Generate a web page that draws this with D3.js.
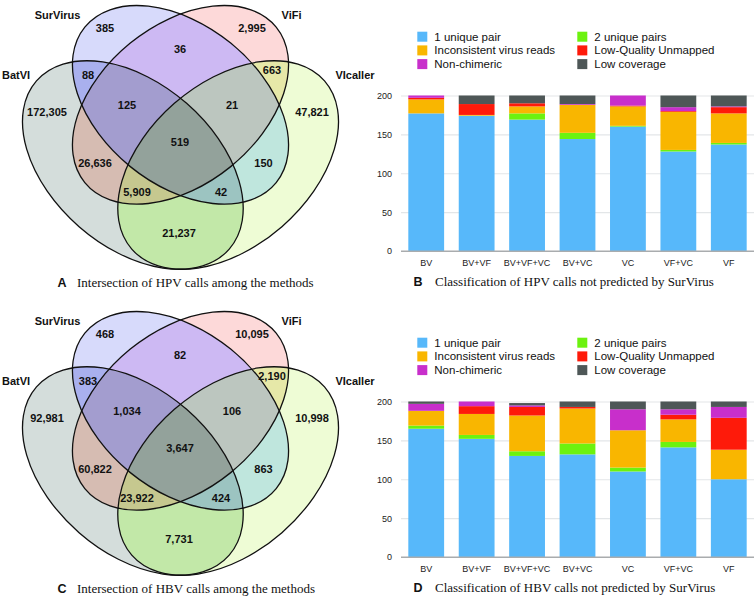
<!DOCTYPE html>
<html>
<head>
<meta charset="utf-8">
<script src="https://cdn.jsdelivr.net/npm/d3@7"></script>
<style>
  body { margin: 0; background: #fff; }
  text { font-family: "Liberation Sans", Arial, sans-serif; fill: #111; }
  .num { font-weight: bold; font-size: 11px; }
  .setname { font-weight: bold; font-size: 11px; }
  .letter { font-weight: bold; font-size: 12.5px; }
  .cap { font-family: "Liberation Serif", "Times New Roman", serif; font-size: 13px; }
  .tick text { font-size: 9px; fill: #222; }
  .legend text { font-size: 11.5px; }
</style>
</head>
<body>
<svg id="fig" width="756" height="596"></svg>
<script>
// ---------- Venn data ----------
const setNames = ['BatVI', 'SurVirus', 'ViFi', 'VIcaller'];
// membership code, order = setNames
const regionCodes = ['1000','0100','0010','0001','1100','0110','0011','1010','0101','1001','1110','0111','1011','1101','1111'];
const hpvCounts = [172305, 385, 2995, 47821, 88, 36, 663, 26636, 150, 21237, 125, 21, 5909, 42, 519];
const hbvCounts = [92981, 468, 10095, 10998, 383, 82, 2190, 60822, 863, 7731, 1034, 106, 23922, 424, 3647];

// ---------- bar data ----------
const categories = ['BV', 'BV+VF', 'BV+VF+VC', 'BV+VC', 'VC', 'VF+VC', 'VF'];
const classes = ['1 unique pair', '2 unique pairs', 'Inconsistent virus reads', 'Low-Quality Unmapped', 'Non-chimeric', 'Low coverage'];

const hpvOnePair      = [177, 174, 169, 144, 160, 128, 137];
const hpvTwoPairs     = [0, 0, 8, 8, 1, 2, 2];
const hpvInconsistent = [18, 1, 9, 36, 25, 49, 38];
const hpvLowQuality   = [2, 14, 4, 0, 1, 1, 8];
const hpvNonChimeric  = [3, 0, 0, 1, 13, 5, 1];
const hpvLowCoverage  = [0, 11, 10, 11, 0, 15, 14];

const hbvOnePair      = [165, 152, 130, 132, 110, 141, 100];
const hbvTwoPairs     = [4, 5, 6, 14, 5, 7, 0];
const hbvInconsistent = [19, 27, 46, 45, 48, 29, 38];
const hbvLowQuality   = [0, 10, 11, 2, 0, 6, 41];
const hbvNonChimeric  = [9, 6, 2, 0, 27, 7, 14];
const hbvLowCoverage  = [3, 0, 3, 7, 10, 10, 7];

// ---------- styles / layout ----------
const classColors = ['#57b8fa', '#6cf20f', '#f9b600', '#fe1a0a', '#c82fcb', '#4e5757'];
const regionFill = {
  '1000': '#d4dddb', '0100': '#d7dafb', '0010': '#fdd9d9', '0001': '#eefcd5',
  '1100': '#a9b0ee', '0110': '#cdb9f3', '0011': '#e6e8a8', '1010': '#d6bcb2',
  '0101': '#bfe6dd', '1001': '#c2e8a8', '1110': '#a39dcf', '0111': '#bcc6bf',
  '1011': '#c6c88f', '1101': '#9cc4c1', '1111': '#93a29b'
};
// ellipse geometry in panel pixels
const ellipses = [
  {cx: 132.85, cy: 165,    rx: 127.9, ry: 81.8, rot: 41.1},
  {cx: 180.5,  cy: 104.85, rx: 123.3, ry: 79.6, rot: 39.1},
  {cx: 180.5,  cy: 104.85, rx: 123.3, ry: 79.6, rot: -39.1},
  {cx: 228.15, cy: 165,    rx: 127.9, ry: 81.8, rot: -41.1}
];
const labelPos = {
  '1000': [47, 112], '0100': [105, 28], '0010': [252, 28], '0001': [312, 112],
  '1100': [88, 75], '0110': [180, 49], '0011': [272, 70], '1010': [95, 163],
  '0101': [263.5, 163], '1001': [179, 233], '1110': [127, 105], '0111': [232, 105],
  '1011': [137, 192.5], '1101': [221, 192.5], '1111': [180, 142.5]
};
const namePos = [
  {x: 2, y: 75, anchor: 'start'}, {x: 57.5, y: 15, anchor: 'middle'},
  {x: 291.5, y: 15, anchor: 'middle'}, {x: 355, y: 75, anchor: 'middle'}
];

const svg = d3.select('#fig');
svg.append('rect').attr('width', 756).attr('height', 596).attr('fill', '#fff');

function drawVenn(g, counts, id, letter, caption) {
  const defs = g.append('defs');
  ellipses.forEach((e, i) => {
    defs.append('clipPath').attr('id', `${id}-in${i}`)
      .append('ellipse')
      .attr('cx', e.cx).attr('cy', e.cy).attr('rx', e.rx).attr('ry', e.ry)
      .attr('transform', `rotate(${e.rot},${e.cx},${e.cy})`);
    const m = defs.append('mask').attr('id', `${id}-out${i}`)
      .attr('maskUnits', 'userSpaceOnUse')
      .attr('x', -20).attr('y', -20).attr('width', 420).attr('height', 320);
    m.append('rect').attr('x', -20).attr('y', -20).attr('width', 420).attr('height', 320).attr('fill', '#fff');
    m.append('ellipse')
      .attr('cx', e.cx).attr('cy', e.cy).attr('rx', e.rx).attr('ry', e.ry)
      .attr('transform', `rotate(${e.rot},${e.cx},${e.cy})`)
      .attr('fill', '#000');
  });

  // fill every region with its own colour
  regionCodes.forEach(code => {
    let host = g.append('g');
    for (let i = 0; i < 4; i++) {
      host = host.append('g').attr(code[i] === '1' ? 'clip-path' : 'mask',
        code[i] === '1' ? `url(#${id}-in${i})` : `url(#${id}-out${i})`);
    }
    host.append('rect').attr('x', -20).attr('y', -20).attr('width', 420).attr('height', 320)
      .attr('fill', regionFill[code]);
  });

  // outlines
  g.selectAll('.outline').data(ellipses).enter().append('ellipse')
    .attr('class', 'outline')
    .attr('cx', d => d.cx).attr('cy', d => d.cy)
    .attr('rx', d => d.rx).attr('ry', d => d.ry)
    .attr('transform', d => `rotate(${d.rot},${d.cx},${d.cy})`)
    .attr('fill', 'none').attr('stroke', '#111').attr('stroke-width', 1.3);

  // counts
  g.selectAll('.num').data(regionCodes).enter().append('text')
    .attr('class', 'num')
    .attr('x', d => labelPos[d][0]).attr('y', d => labelPos[d][1])
    .attr('dy', '0.35em').attr('text-anchor', 'middle')
    .text((d, i) => d3.format(',')(counts[i]));

  // set names
  g.selectAll('.setname').data(setNames).enter().append('text')
    .attr('class', 'setname')
    .attr('x', (d, i) => namePos[i].x).attr('y', (d, i) => namePos[i].y)
    .attr('dy', '0.35em').attr('text-anchor', (d, i) => namePos[i].anchor)
    .text(d => d);

  g.append('text').attr('class', 'letter').attr('x', 62).attr('y', 286.5)
    .attr('text-anchor', 'middle').text(letter);
  g.append('text').attr('class', 'cap').attr('x', 77).attr('y', 286.5).text(caption);
}

function drawBars(g, rows, letter, caption) {
  const x = d3.scaleBand().domain(categories).range([401, 754])
    .paddingInner(0.29).paddingOuter(0.145);
  const y = d3.scaleLinear().domain([0, 200]).range([251, 95.5]);

  const table = categories.map((c, j) => {
    const o = {cat: c};
    classes.forEach((k, i) => { o[k] = rows[i][j]; });
    return o;
  });
  const series = d3.stack().keys(classes)(table);

  // grid + y labels
  const yAxis = g.append('g').attr('class', 'tick-axis')
    .attr('transform', 'translate(401,0)')
    .call(d3.axisLeft(y).tickValues([0, 50, 100, 150, 200]).tickSize(-353).tickPadding(9));
  yAxis.select('.domain').remove();
  yAxis.selectAll('.tick line').attr('stroke', d => d === 0 ? '#a9acae' : '#e3e6e8').attr('stroke-width', 1.2);

  g.selectAll('.layer').data(series).enter().append('g')
    .attr('fill', (d, i) => classColors[i])
    .selectAll('rect').data(d => d).enter().append('rect')
    .attr('x', d => x(d.data.cat))
    .attr('y', d => y(d[1]))
    .attr('width', x.bandwidth())
    .attr('height', d => y(d[0]) - y(d[1]));

  // baseline on top
  g.append('line').attr('x1', 401).attr('x2', 754).attr('y1', y(0)).attr('y2', y(0))
    .attr('stroke', '#a9acae').attr('stroke-width', 1.2);

  const xAxis = g.append('g').attr('transform', `translate(0,${y(0)})`)
    .call(d3.axisBottom(x).tickSize(0).tickPadding(8.5));
  xAxis.select('.domain').remove();

  // legend
  const lg = g.append('g').attr('class', 'legend');
  const item = lg.selectAll('g').data(classes).enter().append('g')
    .attr('transform', (d, i) => `translate(${i % 2 ? 577.3 : 417.3},${36.7 + Math.floor(i / 2) * 13.7})`);
  item.append('rect').attr('x', 0).attr('y', -5).attr('width', 10).attr('height', 10)
    .attr('fill', (d, i) => classColors[i]);
  item.append('text').attr('x', 17).attr('dy', '0.35em').text(d => d);

  g.append('text').attr('class', 'letter').attr('x', 418).attr('y', 286)
    .attr('text-anchor', 'middle').text(letter);
  g.append('text').attr('class', 'cap').attr('x', 435).attr('y', 286).text(caption);
}

drawVenn(svg.append('g'), hpvCounts, 'vA', 'A', 'Intersection of HPV calls among the methods');
drawVenn(svg.append('g').attr('transform', 'translate(0,306)'), hbvCounts, 'vC', 'C', 'Intersection of HBV calls among the methods');

drawBars(svg.append('g'),
  [hpvOnePair, hpvTwoPairs, hpvInconsistent, hpvLowQuality, hpvNonChimeric, hpvLowCoverage],
  'B', 'Classification of HPV calls not predicted by SurVirus');
drawBars(svg.append('g').attr('transform', 'translate(0,306)'),
  [hbvOnePair, hbvTwoPairs, hbvInconsistent, hbvLowQuality, hbvNonChimeric, hbvLowCoverage],
  'D', 'Classification of HBV calls not predicted by SurVirus');
</script>
</body>
</html>
